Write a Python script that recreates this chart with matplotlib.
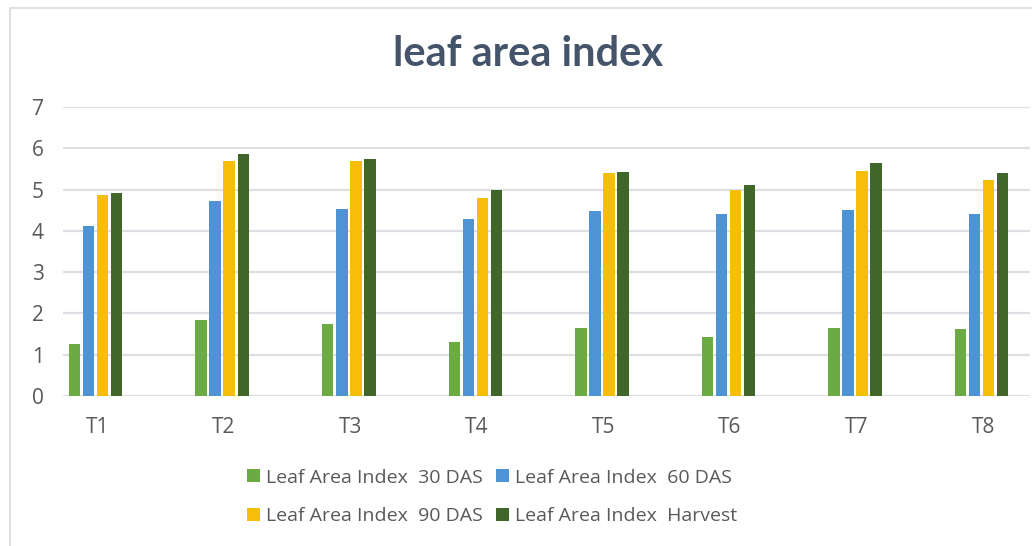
import numpy as np
import matplotlib.pyplot as plt
from matplotlib.patches import Rectangle

treatments = ['T1', 'T2', 'T3', 'T4', 'T5', 'T6', 'T7', 'T8']
lai_30 = [1.27, 1.85, 1.74, 1.31, 1.65, 1.43, 1.65, 1.62]
lai_60 = [4.12, 4.73, 4.53, 4.28, 4.47, 4.40, 4.50, 4.40]
lai_90 = [4.88, 5.69, 5.69, 4.79, 5.40, 5.00, 5.46, 5.24]
lai_harvest = [4.91, 5.85, 5.74, 4.99, 5.43, 5.10, 5.64, 5.39]

labels = ['Leaf Area Index  30 DAS', 'Leaf Area Index  60 DAS',
          'Leaf Area Index  90 DAS', 'Leaf Area Index  Harvest']
colors = ['#6cab43', '#4e93d3', '#f6be09', '#41662a']

plt.rcParams['font.family'] = ['Open Sans', 'DejaVu Sans']

fig = plt.figure(figsize=(10.32, 5.46), dpi=100)
ax = fig.add_axes([63 / 1032, 150 / 546, 967 / 1032, 289 / 546])

x = np.arange(len(treatments))
w = 0.091
step = 0.111
series = [lai_30, lai_60, lai_90, lai_harvest]
bars = []
for i, vals in enumerate(series):
    b = ax.bar(x + (i - 1.5) * step - 0.012, vals, width=w, color=colors[i],
               label=labels[i], zorder=3)
    bars.append(b)

ax.set_xlim(-0.27, 7.37)
ax.set_ylim(0, 7)
ax.set_yticks(range(8))
ax.set_xticks(x)
ax.set_xticklabels(treatments)
ax.grid(axis='y', color='#dcdfe3', linewidth=1.6, zorder=0)
for s in ax.spines.values():
    s.set_visible(False)
ax.tick_params(axis='both', length=0, labelsize=15, colors='#595959')
ax.tick_params(axis='x', pad=15)
for lab in ax.get_yticklabels():
    lab.set_horizontalalignment('center')
    lab.set_x(-0.021)

fig.text(0.512, 0.902, 'leaf area index', ha='center', va='center',
         fontsize=30, fontweight='bold', color='#44546a', family='Lato')

# chart frame
fig.add_artist(Rectangle((10 / 1032, -0.05), 1.2, 1 - 8 / 546 + 0.05,
                         transform=fig.transFigure, fill=False,
                         edgecolor='#d9d9d9', linewidth=1.2))

# legend filled row by row like the original
order = [0, 2, 1, 3]
fig.legend([bars[i] for i in order], [labels[i] for i in order],
           loc='center', bbox_to_anchor=(492 / 1032, 1 - 497 / 546), ncol=2,
           frameon=False, fontsize=14, labelcolor='#595959',
           handlelength=0.65, handleheight=0.65, handletextpad=0.3,
           columnspacing=0.7, labelspacing=1.05)

fig.savefig('out.png', dpi=100)
